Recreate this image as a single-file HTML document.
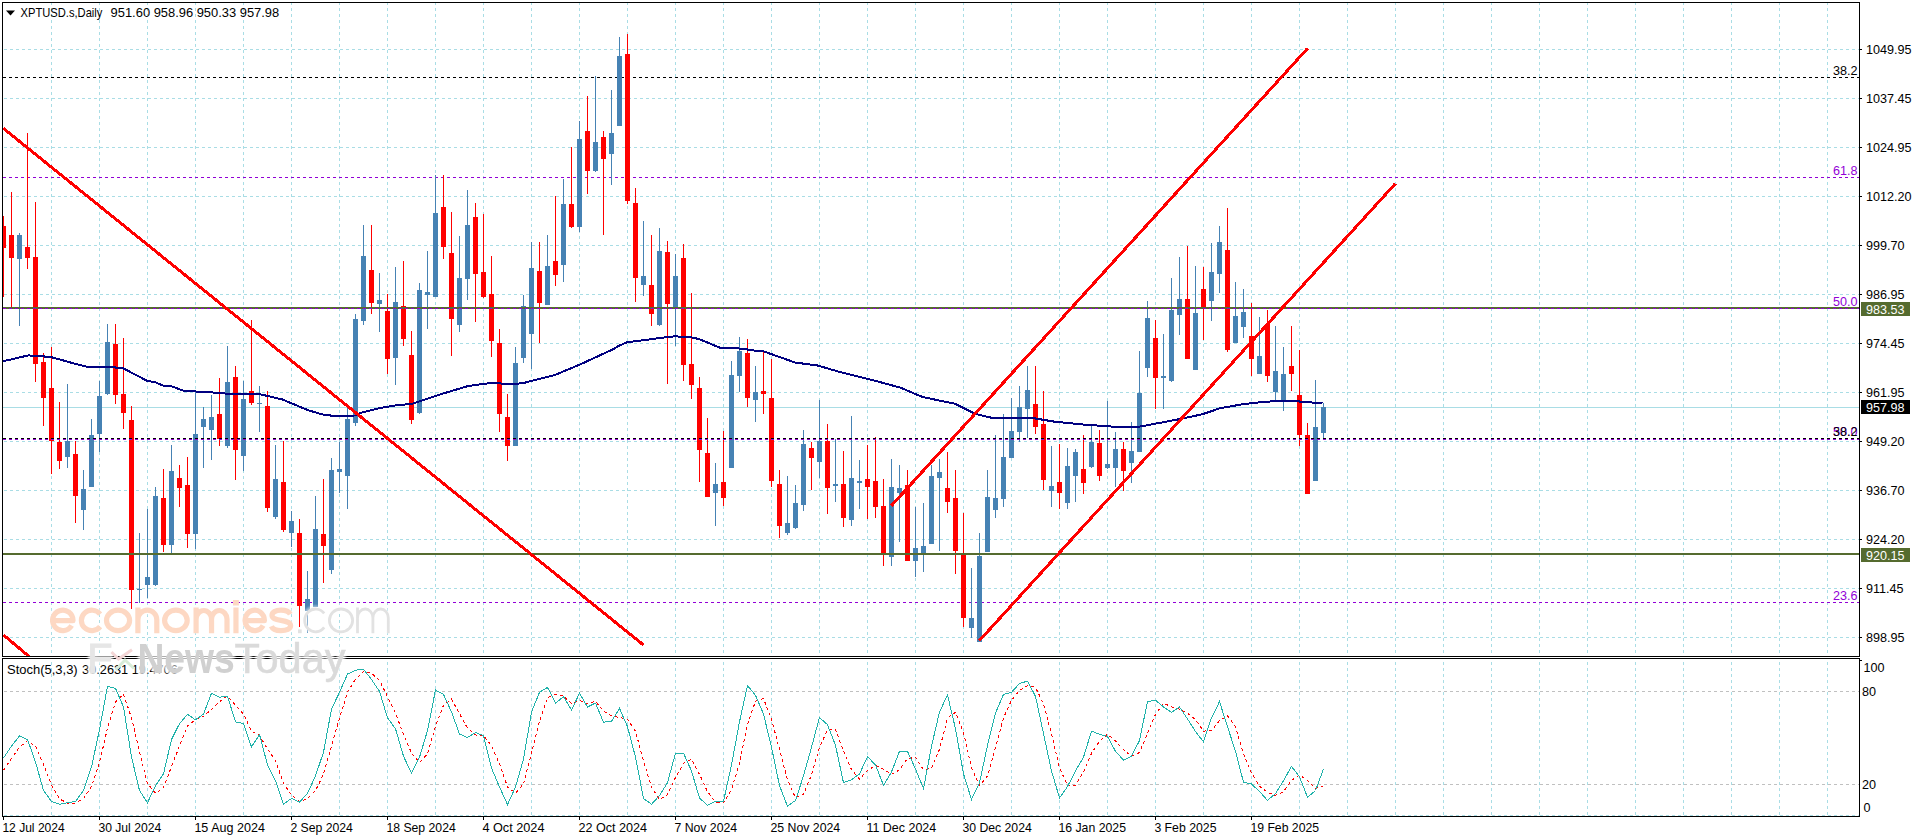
<!DOCTYPE html><html><head><meta charset="utf-8"><title>XPTUSD.s Daily</title>
<style>html,body{margin:0;padding:0;background:#fff;overflow:hidden}svg{display:block}text{font-family:"Liberation Sans",sans-serif;font-size:12.6px;fill:#000}.wm{font-family:"Liberation Sans",sans-serif}</style></head><body>
<svg width="1916" height="840" viewBox="0 0 1916 840">
<rect width="1916" height="840" fill="#fff"/>
<defs><clipPath id="cm"><rect x="3" y="3" width="1856" height="653"/></clipPath><clipPath id="ci"><rect x="3" y="659" width="1856" height="157"/></clipPath></defs>
<g shape-rendering="crispEdges" stroke="#a9dde5" stroke-width="1" stroke-dasharray="3 3" fill="none">
<g clip-path="url(#cm)">
<line x1="51.5" y1="2" x2="51.5" y2="656" stroke-dashoffset="0"/>
<line x1="99.5" y1="2" x2="99.5" y2="656" stroke-dashoffset="0"/>
<line x1="147.5" y1="2" x2="147.5" y2="656" stroke-dashoffset="0"/>
<line x1="195.5" y1="2" x2="195.5" y2="656" stroke-dashoffset="0"/>
<line x1="243.5" y1="2" x2="243.5" y2="656" stroke-dashoffset="0"/>
<line x1="291.5" y1="2" x2="291.5" y2="656" stroke-dashoffset="0"/>
<line x1="339.5" y1="2" x2="339.5" y2="656" stroke-dashoffset="0"/>
<line x1="387.5" y1="2" x2="387.5" y2="656" stroke-dashoffset="0"/>
<line x1="435.5" y1="2" x2="435.5" y2="656" stroke-dashoffset="0"/>
<line x1="483.5" y1="2" x2="483.5" y2="656" stroke-dashoffset="0"/>
<line x1="531.5" y1="2" x2="531.5" y2="656" stroke-dashoffset="0"/>
<line x1="579.5" y1="2" x2="579.5" y2="656" stroke-dashoffset="0"/>
<line x1="627.5" y1="2" x2="627.5" y2="656" stroke-dashoffset="0"/>
<line x1="675.5" y1="2" x2="675.5" y2="656" stroke-dashoffset="0"/>
<line x1="723.5" y1="2" x2="723.5" y2="656" stroke-dashoffset="0"/>
<line x1="771.5" y1="2" x2="771.5" y2="656" stroke-dashoffset="0"/>
<line x1="819.5" y1="2" x2="819.5" y2="656" stroke-dashoffset="0"/>
<line x1="867.5" y1="2" x2="867.5" y2="656" stroke-dashoffset="0"/>
<line x1="915.5" y1="2" x2="915.5" y2="656" stroke-dashoffset="0"/>
<line x1="963.5" y1="2" x2="963.5" y2="656" stroke-dashoffset="0"/>
<line x1="1011.5" y1="2" x2="1011.5" y2="656" stroke-dashoffset="0"/>
<line x1="1059.5" y1="2" x2="1059.5" y2="656" stroke-dashoffset="0"/>
<line x1="1107.5" y1="2" x2="1107.5" y2="656" stroke-dashoffset="0"/>
<line x1="1155.5" y1="2" x2="1155.5" y2="656" stroke-dashoffset="0"/>
<line x1="1203.5" y1="2" x2="1203.5" y2="656" stroke-dashoffset="0"/>
<line x1="1251.5" y1="2" x2="1251.5" y2="656" stroke-dashoffset="0"/>
<line x1="1299.5" y1="2" x2="1299.5" y2="656" stroke-dashoffset="0"/>
<line x1="1347.5" y1="2" x2="1347.5" y2="656" stroke-dashoffset="0"/>
<line x1="1395.5" y1="2" x2="1395.5" y2="656" stroke-dashoffset="0"/>
<line x1="1443.5" y1="2" x2="1443.5" y2="656" stroke-dashoffset="0"/>
<line x1="1491.5" y1="2" x2="1491.5" y2="656" stroke-dashoffset="0"/>
<line x1="1539.5" y1="2" x2="1539.5" y2="656" stroke-dashoffset="0"/>
<line x1="1587.5" y1="2" x2="1587.5" y2="656" stroke-dashoffset="0"/>
<line x1="1635.5" y1="2" x2="1635.5" y2="656" stroke-dashoffset="0"/>
<line x1="1683.5" y1="2" x2="1683.5" y2="656" stroke-dashoffset="0"/>
<line x1="1731.5" y1="2" x2="1731.5" y2="656" stroke-dashoffset="0"/>
<line x1="1779.5" y1="2" x2="1779.5" y2="656" stroke-dashoffset="0"/>
<line x1="1827.5" y1="2" x2="1827.5" y2="656" stroke-dashoffset="0"/>
<line x1="4" y1="49.5" x2="1859" y2="49.5"/>
<line x1="4" y1="98.5" x2="1859" y2="98.5"/>
<line x1="4" y1="147.5" x2="1859" y2="147.5"/>
<line x1="4" y1="196.5" x2="1859" y2="196.5"/>
<line x1="4" y1="245.5" x2="1859" y2="245.5"/>
<line x1="4" y1="294.5" x2="1859" y2="294.5"/>
<line x1="4" y1="343.5" x2="1859" y2="343.5"/>
<line x1="4" y1="392.5" x2="1859" y2="392.5"/>
<line x1="4" y1="441.5" x2="1859" y2="441.5"/>
<line x1="4" y1="490.5" x2="1859" y2="490.5"/>
<line x1="4" y1="539.5" x2="1859" y2="539.5"/>
<line x1="4" y1="588.5" x2="1859" y2="588.5"/>
<line x1="4" y1="637.5" x2="1859" y2="637.5"/>
</g><g clip-path="url(#ci)">
<line x1="51.5" y1="656" x2="51.5" y2="816"/>
<line x1="99.5" y1="656" x2="99.5" y2="816"/>
<line x1="147.5" y1="656" x2="147.5" y2="816"/>
<line x1="195.5" y1="656" x2="195.5" y2="816"/>
<line x1="243.5" y1="656" x2="243.5" y2="816"/>
<line x1="291.5" y1="656" x2="291.5" y2="816"/>
<line x1="339.5" y1="656" x2="339.5" y2="816"/>
<line x1="387.5" y1="656" x2="387.5" y2="816"/>
<line x1="435.5" y1="656" x2="435.5" y2="816"/>
<line x1="483.5" y1="656" x2="483.5" y2="816"/>
<line x1="531.5" y1="656" x2="531.5" y2="816"/>
<line x1="579.5" y1="656" x2="579.5" y2="816"/>
<line x1="627.5" y1="656" x2="627.5" y2="816"/>
<line x1="675.5" y1="656" x2="675.5" y2="816"/>
<line x1="723.5" y1="656" x2="723.5" y2="816"/>
<line x1="771.5" y1="656" x2="771.5" y2="816"/>
<line x1="819.5" y1="656" x2="819.5" y2="816"/>
<line x1="867.5" y1="656" x2="867.5" y2="816"/>
<line x1="915.5" y1="656" x2="915.5" y2="816"/>
<line x1="963.5" y1="656" x2="963.5" y2="816"/>
<line x1="1011.5" y1="656" x2="1011.5" y2="816"/>
<line x1="1059.5" y1="656" x2="1059.5" y2="816"/>
<line x1="1107.5" y1="656" x2="1107.5" y2="816"/>
<line x1="1155.5" y1="656" x2="1155.5" y2="816"/>
<line x1="1203.5" y1="656" x2="1203.5" y2="816"/>
<line x1="1251.5" y1="656" x2="1251.5" y2="816"/>
<line x1="1299.5" y1="656" x2="1299.5" y2="816"/>
<line x1="1347.5" y1="656" x2="1347.5" y2="816"/>
<line x1="1395.5" y1="656" x2="1395.5" y2="816"/>
<line x1="1443.5" y1="656" x2="1443.5" y2="816"/>
<line x1="1491.5" y1="656" x2="1491.5" y2="816"/>
<line x1="1539.5" y1="656" x2="1539.5" y2="816"/>
<line x1="1587.5" y1="656" x2="1587.5" y2="816"/>
<line x1="1635.5" y1="656" x2="1635.5" y2="816"/>
<line x1="1683.5" y1="656" x2="1683.5" y2="816"/>
<line x1="1731.5" y1="656" x2="1731.5" y2="816"/>
<line x1="1779.5" y1="656" x2="1779.5" y2="816"/>
<line x1="1827.5" y1="656" x2="1827.5" y2="816"/>
<line x1="4" y1="815.5" x2="1859" y2="815.5"/>
</g></g>
<g shape-rendering="crispEdges" stroke="#c0c0c0" stroke-dasharray="3 3">
<line x1="4" y1="691.5" x2="1859" y2="691.5"/>
<line x1="4" y1="784.5" x2="1859" y2="784.5"/>
</g>
<g clip-path="url(#cm)" shape-rendering="crispEdges">
<rect x="3" y="407" width="1856" height="1" fill="#a9dde5"/>
<line x1="3" y1="77.5" x2="1859" y2="77.5" stroke="#000" stroke-dasharray="3 3"/>
<line x1="3" y1="177.5" x2="1859" y2="177.5" stroke="#9200d6" stroke-dasharray="3 3"/>
<line x1="3" y1="602.5" x2="1859" y2="602.5" stroke="#9200d6" stroke-dasharray="3 3"/>
<rect x="3" y="216" width="1" height="81" fill="#ff0000"/>
<rect x="1" y="226" width="5" height="22" fill="#ff0000"/>
<rect x="11" y="192" width="1" height="115" fill="#ff0000"/>
<rect x="9" y="235" width="5" height="23" fill="#ff0000"/>
<rect x="19" y="233" width="1" height="93" fill="#4682b4"/>
<rect x="17" y="235" width="5" height="24" fill="#4682b4"/>
<rect x="27" y="133" width="1" height="136" fill="#ff0000"/>
<rect x="25" y="247" width="5" height="11" fill="#ff0000"/>
<rect x="35" y="202" width="1" height="180" fill="#ff0000"/>
<rect x="33" y="257" width="5" height="107" fill="#ff0000"/>
<rect x="43" y="353" width="1" height="73" fill="#ff0000"/>
<rect x="41" y="362" width="5" height="36" fill="#ff0000"/>
<rect x="51" y="347" width="1" height="127" fill="#ff0000"/>
<rect x="49" y="388" width="5" height="53" fill="#ff0000"/>
<rect x="59" y="402" width="1" height="67" fill="#ff0000"/>
<rect x="57" y="442" width="5" height="19" fill="#ff0000"/>
<rect x="67" y="384" width="1" height="84" fill="#4682b4"/>
<rect x="65" y="441" width="5" height="16" fill="#4682b4"/>
<rect x="75" y="441" width="1" height="82" fill="#ff0000"/>
<rect x="73" y="454" width="5" height="42" fill="#ff0000"/>
<rect x="83" y="470" width="1" height="60" fill="#4682b4"/>
<rect x="81" y="489" width="5" height="21" fill="#4682b4"/>
<rect x="91" y="419" width="1" height="68" fill="#4682b4"/>
<rect x="89" y="435" width="5" height="52" fill="#4682b4"/>
<rect x="99" y="381" width="1" height="71" fill="#4682b4"/>
<rect x="97" y="396" width="5" height="38" fill="#4682b4"/>
<rect x="107" y="324" width="1" height="71" fill="#4682b4"/>
<rect x="105" y="342" width="5" height="52" fill="#4682b4"/>
<rect x="115" y="324" width="1" height="80" fill="#ff0000"/>
<rect x="113" y="344" width="5" height="51" fill="#ff0000"/>
<rect x="123" y="338" width="1" height="91" fill="#ff0000"/>
<rect x="121" y="394" width="5" height="19" fill="#ff0000"/>
<rect x="131" y="406" width="1" height="203" fill="#ff0000"/>
<rect x="129" y="420" width="5" height="170" fill="#ff0000"/>
<rect x="139" y="533" width="1" height="70" fill="#4682b4"/>
<rect x="137" y="589" width="5" height="1" fill="#4682b4"/>
<rect x="147" y="509" width="1" height="89" fill="#4682b4"/>
<rect x="145" y="577" width="5" height="8" fill="#4682b4"/>
<rect x="155" y="487" width="1" height="99" fill="#4682b4"/>
<rect x="153" y="496" width="5" height="89" fill="#4682b4"/>
<rect x="163" y="469" width="1" height="83" fill="#ff0000"/>
<rect x="161" y="498" width="5" height="47" fill="#ff0000"/>
<rect x="171" y="445" width="1" height="108" fill="#4682b4"/>
<rect x="169" y="471" width="5" height="74" fill="#4682b4"/>
<rect x="179" y="465" width="1" height="42" fill="#ff0000"/>
<rect x="177" y="478" width="5" height="10" fill="#ff0000"/>
<rect x="187" y="457" width="1" height="91" fill="#ff0000"/>
<rect x="185" y="485" width="5" height="49" fill="#ff0000"/>
<rect x="195" y="391" width="1" height="158" fill="#4682b4"/>
<rect x="193" y="434" width="5" height="100" fill="#4682b4"/>
<rect x="203" y="407" width="1" height="61" fill="#4682b4"/>
<rect x="201" y="419" width="5" height="8" fill="#4682b4"/>
<rect x="211" y="395" width="1" height="65" fill="#4682b4"/>
<rect x="209" y="417" width="5" height="13" fill="#4682b4"/>
<rect x="219" y="378" width="1" height="68" fill="#ff0000"/>
<rect x="217" y="414" width="5" height="25" fill="#ff0000"/>
<rect x="227" y="346" width="1" height="102" fill="#4682b4"/>
<rect x="225" y="382" width="5" height="64" fill="#4682b4"/>
<rect x="235" y="366" width="1" height="114" fill="#ff0000"/>
<rect x="233" y="377" width="5" height="73" fill="#ff0000"/>
<rect x="243" y="381" width="1" height="90" fill="#4682b4"/>
<rect x="241" y="399" width="5" height="57" fill="#4682b4"/>
<rect x="251" y="320" width="1" height="85" fill="#ff0000"/>
<rect x="249" y="391" width="5" height="12" fill="#ff0000"/>
<rect x="259" y="386" width="1" height="46" fill="#4682b4"/>
<rect x="257" y="403" width="5" height="1" fill="#4682b4"/>
<rect x="267" y="391" width="1" height="121" fill="#ff0000"/>
<rect x="265" y="406" width="5" height="102" fill="#ff0000"/>
<rect x="275" y="445" width="1" height="74" fill="#4682b4"/>
<rect x="273" y="479" width="5" height="38" fill="#4682b4"/>
<rect x="283" y="441" width="1" height="91" fill="#ff0000"/>
<rect x="281" y="482" width="5" height="48" fill="#ff0000"/>
<rect x="291" y="511" width="1" height="36" fill="#4682b4"/>
<rect x="289" y="521" width="5" height="12" fill="#4682b4"/>
<rect x="299" y="519" width="1" height="108" fill="#ff0000"/>
<rect x="297" y="533" width="5" height="73" fill="#ff0000"/>
<rect x="307" y="571" width="1" height="62" fill="#4682b4"/>
<rect x="305" y="599" width="5" height="12" fill="#4682b4"/>
<rect x="315" y="496" width="1" height="111" fill="#4682b4"/>
<rect x="313" y="529" width="5" height="78" fill="#4682b4"/>
<rect x="323" y="479" width="1" height="104" fill="#ff0000"/>
<rect x="321" y="534" width="5" height="12" fill="#ff0000"/>
<rect x="331" y="458" width="1" height="116" fill="#4682b4"/>
<rect x="329" y="470" width="5" height="100" fill="#4682b4"/>
<rect x="339" y="442" width="1" height="51" fill="#4682b4"/>
<rect x="337" y="469" width="5" height="3" fill="#4682b4"/>
<rect x="347" y="406" width="1" height="103" fill="#4682b4"/>
<rect x="345" y="419" width="5" height="57" fill="#4682b4"/>
<rect x="355" y="314" width="1" height="112" fill="#4682b4"/>
<rect x="353" y="319" width="5" height="104" fill="#4682b4"/>
<rect x="363" y="225" width="1" height="100" fill="#4682b4"/>
<rect x="361" y="256" width="5" height="65" fill="#4682b4"/>
<rect x="371" y="225" width="1" height="89" fill="#ff0000"/>
<rect x="369" y="270" width="5" height="33" fill="#ff0000"/>
<rect x="379" y="273" width="1" height="59" fill="#4682b4"/>
<rect x="377" y="300" width="5" height="4" fill="#4682b4"/>
<rect x="387" y="294" width="1" height="80" fill="#ff0000"/>
<rect x="385" y="311" width="5" height="48" fill="#ff0000"/>
<rect x="395" y="267" width="1" height="118" fill="#4682b4"/>
<rect x="393" y="302" width="5" height="56" fill="#4682b4"/>
<rect x="403" y="261" width="1" height="85" fill="#ff0000"/>
<rect x="401" y="306" width="5" height="33" fill="#ff0000"/>
<rect x="411" y="331" width="1" height="93" fill="#ff0000"/>
<rect x="409" y="355" width="5" height="65" fill="#ff0000"/>
<rect x="419" y="283" width="1" height="131" fill="#4682b4"/>
<rect x="417" y="290" width="5" height="123" fill="#4682b4"/>
<rect x="427" y="251" width="1" height="78" fill="#4682b4"/>
<rect x="425" y="292" width="5" height="3" fill="#4682b4"/>
<rect x="435" y="175" width="1" height="122" fill="#4682b4"/>
<rect x="433" y="213" width="5" height="84" fill="#4682b4"/>
<rect x="443" y="175" width="1" height="84" fill="#ff0000"/>
<rect x="441" y="207" width="5" height="40" fill="#ff0000"/>
<rect x="451" y="212" width="1" height="144" fill="#ff0000"/>
<rect x="449" y="253" width="5" height="66" fill="#ff0000"/>
<rect x="459" y="236" width="1" height="96" fill="#4682b4"/>
<rect x="457" y="278" width="5" height="47" fill="#4682b4"/>
<rect x="467" y="190" width="1" height="110" fill="#4682b4"/>
<rect x="465" y="225" width="5" height="54" fill="#4682b4"/>
<rect x="475" y="203" width="1" height="119" fill="#ff0000"/>
<rect x="473" y="217" width="5" height="57" fill="#ff0000"/>
<rect x="483" y="214" width="1" height="84" fill="#ff0000"/>
<rect x="481" y="272" width="5" height="25" fill="#ff0000"/>
<rect x="491" y="256" width="1" height="101" fill="#ff0000"/>
<rect x="489" y="294" width="5" height="47" fill="#ff0000"/>
<rect x="499" y="329" width="1" height="103" fill="#ff0000"/>
<rect x="497" y="343" width="5" height="71" fill="#ff0000"/>
<rect x="507" y="394" width="1" height="67" fill="#ff0000"/>
<rect x="505" y="417" width="5" height="29" fill="#ff0000"/>
<rect x="515" y="347" width="1" height="99" fill="#4682b4"/>
<rect x="513" y="363" width="5" height="83" fill="#4682b4"/>
<rect x="523" y="295" width="1" height="68" fill="#4682b4"/>
<rect x="521" y="306" width="5" height="52" fill="#4682b4"/>
<rect x="531" y="242" width="1" height="127" fill="#4682b4"/>
<rect x="529" y="268" width="5" height="66" fill="#4682b4"/>
<rect x="539" y="242" width="1" height="101" fill="#ff0000"/>
<rect x="537" y="271" width="5" height="32" fill="#ff0000"/>
<rect x="547" y="235" width="1" height="70" fill="#4682b4"/>
<rect x="545" y="266" width="5" height="39" fill="#4682b4"/>
<rect x="555" y="196" width="1" height="90" fill="#ff0000"/>
<rect x="553" y="261" width="5" height="14" fill="#ff0000"/>
<rect x="563" y="179" width="1" height="103" fill="#4682b4"/>
<rect x="561" y="204" width="5" height="61" fill="#4682b4"/>
<rect x="571" y="147" width="1" height="81" fill="#ff0000"/>
<rect x="569" y="204" width="5" height="23" fill="#ff0000"/>
<rect x="579" y="121" width="1" height="111" fill="#4682b4"/>
<rect x="577" y="139" width="5" height="88" fill="#4682b4"/>
<rect x="587" y="96" width="1" height="98" fill="#ff0000"/>
<rect x="585" y="131" width="5" height="40" fill="#ff0000"/>
<rect x="595" y="76" width="1" height="96" fill="#4682b4"/>
<rect x="593" y="142" width="5" height="29" fill="#4682b4"/>
<rect x="603" y="131" width="1" height="104" fill="#ff0000"/>
<rect x="601" y="137" width="5" height="22" fill="#ff0000"/>
<rect x="611" y="90" width="1" height="95" fill="#4682b4"/>
<rect x="609" y="133" width="5" height="21" fill="#4682b4"/>
<rect x="619" y="37" width="1" height="89" fill="#4682b4"/>
<rect x="617" y="56" width="5" height="70" fill="#4682b4"/>
<rect x="627" y="34" width="1" height="170" fill="#ff0000"/>
<rect x="625" y="54" width="5" height="147" fill="#ff0000"/>
<rect x="635" y="188" width="1" height="114" fill="#ff0000"/>
<rect x="633" y="203" width="5" height="75" fill="#ff0000"/>
<rect x="643" y="221" width="1" height="75" fill="#4682b4"/>
<rect x="641" y="276" width="5" height="9" fill="#4682b4"/>
<rect x="651" y="235" width="1" height="91" fill="#ff0000"/>
<rect x="649" y="285" width="5" height="29" fill="#ff0000"/>
<rect x="659" y="228" width="1" height="98" fill="#4682b4"/>
<rect x="657" y="251" width="5" height="74" fill="#4682b4"/>
<rect x="667" y="241" width="1" height="143" fill="#ff0000"/>
<rect x="665" y="252" width="5" height="52" fill="#ff0000"/>
<rect x="675" y="254" width="1" height="92" fill="#4682b4"/>
<rect x="673" y="276" width="5" height="33" fill="#4682b4"/>
<rect x="683" y="244" width="1" height="137" fill="#ff0000"/>
<rect x="681" y="258" width="5" height="107" fill="#ff0000"/>
<rect x="691" y="293" width="1" height="106" fill="#ff0000"/>
<rect x="689" y="364" width="5" height="21" fill="#ff0000"/>
<rect x="699" y="377" width="1" height="105" fill="#ff0000"/>
<rect x="697" y="388" width="5" height="62" fill="#ff0000"/>
<rect x="707" y="418" width="1" height="79" fill="#ff0000"/>
<rect x="705" y="453" width="5" height="44" fill="#ff0000"/>
<rect x="715" y="463" width="1" height="63" fill="#4682b4"/>
<rect x="713" y="484" width="5" height="9" fill="#4682b4"/>
<rect x="723" y="431" width="1" height="75" fill="#ff0000"/>
<rect x="721" y="482" width="5" height="16" fill="#ff0000"/>
<rect x="731" y="361" width="1" height="107" fill="#4682b4"/>
<rect x="729" y="375" width="5" height="93" fill="#4682b4"/>
<rect x="739" y="337" width="1" height="55" fill="#4682b4"/>
<rect x="737" y="351" width="5" height="25" fill="#4682b4"/>
<rect x="747" y="339" width="1" height="68" fill="#ff0000"/>
<rect x="745" y="353" width="5" height="45" fill="#ff0000"/>
<rect x="755" y="366" width="1" height="56" fill="#4682b4"/>
<rect x="753" y="392" width="5" height="8" fill="#4682b4"/>
<rect x="763" y="351" width="1" height="63" fill="#ff0000"/>
<rect x="761" y="391" width="5" height="3" fill="#ff0000"/>
<rect x="771" y="359" width="1" height="128" fill="#ff0000"/>
<rect x="769" y="398" width="5" height="83" fill="#ff0000"/>
<rect x="779" y="470" width="1" height="68" fill="#ff0000"/>
<rect x="777" y="484" width="5" height="42" fill="#ff0000"/>
<rect x="787" y="476" width="1" height="59" fill="#4682b4"/>
<rect x="785" y="523" width="5" height="10" fill="#4682b4"/>
<rect x="795" y="485" width="1" height="44" fill="#4682b4"/>
<rect x="793" y="503" width="5" height="25" fill="#4682b4"/>
<rect x="803" y="430" width="1" height="81" fill="#4682b4"/>
<rect x="801" y="444" width="5" height="61" fill="#4682b4"/>
<rect x="811" y="442" width="1" height="48" fill="#ff0000"/>
<rect x="809" y="448" width="5" height="10" fill="#ff0000"/>
<rect x="819" y="400" width="1" height="78" fill="#4682b4"/>
<rect x="817" y="441" width="5" height="21" fill="#4682b4"/>
<rect x="827" y="424" width="1" height="90" fill="#ff0000"/>
<rect x="825" y="441" width="5" height="47" fill="#ff0000"/>
<rect x="835" y="439" width="1" height="63" fill="#4682b4"/>
<rect x="833" y="484" width="5" height="2" fill="#4682b4"/>
<rect x="843" y="451" width="1" height="76" fill="#ff0000"/>
<rect x="841" y="484" width="5" height="34" fill="#ff0000"/>
<rect x="851" y="416" width="1" height="110" fill="#4682b4"/>
<rect x="849" y="478" width="5" height="42" fill="#4682b4"/>
<rect x="859" y="460" width="1" height="49" fill="#4682b4"/>
<rect x="857" y="481" width="5" height="2" fill="#4682b4"/>
<rect x="867" y="445" width="1" height="74" fill="#ff0000"/>
<rect x="865" y="479" width="5" height="8" fill="#ff0000"/>
<rect x="875" y="437" width="1" height="81" fill="#ff0000"/>
<rect x="873" y="481" width="5" height="26" fill="#ff0000"/>
<rect x="883" y="479" width="1" height="87" fill="#ff0000"/>
<rect x="881" y="506" width="5" height="48" fill="#ff0000"/>
<rect x="891" y="459" width="1" height="107" fill="#4682b4"/>
<rect x="889" y="487" width="5" height="70" fill="#4682b4"/>
<rect x="899" y="465" width="1" height="77" fill="#4682b4"/>
<rect x="897" y="488" width="5" height="5" fill="#4682b4"/>
<rect x="907" y="470" width="1" height="91" fill="#ff0000"/>
<rect x="905" y="485" width="5" height="76" fill="#ff0000"/>
<rect x="915" y="507" width="1" height="70" fill="#4682b4"/>
<rect x="913" y="548" width="5" height="13" fill="#4682b4"/>
<rect x="923" y="503" width="1" height="69" fill="#4682b4"/>
<rect x="921" y="546" width="5" height="8" fill="#4682b4"/>
<rect x="931" y="465" width="1" height="79" fill="#4682b4"/>
<rect x="929" y="476" width="5" height="68" fill="#4682b4"/>
<rect x="939" y="459" width="1" height="92" fill="#4682b4"/>
<rect x="937" y="472" width="5" height="6" fill="#4682b4"/>
<rect x="947" y="452" width="1" height="61" fill="#ff0000"/>
<rect x="945" y="488" width="5" height="14" fill="#ff0000"/>
<rect x="955" y="470" width="1" height="104" fill="#ff0000"/>
<rect x="953" y="498" width="5" height="53" fill="#ff0000"/>
<rect x="963" y="513" width="1" height="114" fill="#ff0000"/>
<rect x="961" y="554" width="5" height="64" fill="#ff0000"/>
<rect x="971" y="568" width="1" height="70" fill="#4682b4"/>
<rect x="969" y="618" width="5" height="10" fill="#4682b4"/>
<rect x="979" y="533" width="1" height="109" fill="#4682b4"/>
<rect x="977" y="556" width="5" height="86" fill="#4682b4"/>
<rect x="987" y="470" width="1" height="82" fill="#4682b4"/>
<rect x="985" y="497" width="5" height="55" fill="#4682b4"/>
<rect x="995" y="435" width="1" height="83" fill="#4682b4"/>
<rect x="993" y="498" width="5" height="12" fill="#4682b4"/>
<rect x="1003" y="414" width="1" height="93" fill="#4682b4"/>
<rect x="1001" y="457" width="5" height="42" fill="#4682b4"/>
<rect x="1011" y="398" width="1" height="60" fill="#4682b4"/>
<rect x="1009" y="431" width="5" height="27" fill="#4682b4"/>
<rect x="1019" y="386" width="1" height="56" fill="#4682b4"/>
<rect x="1017" y="407" width="5" height="25" fill="#4682b4"/>
<rect x="1027" y="366" width="1" height="72" fill="#4682b4"/>
<rect x="1025" y="390" width="5" height="19" fill="#4682b4"/>
<rect x="1035" y="366" width="1" height="68" fill="#ff0000"/>
<rect x="1033" y="404" width="5" height="23" fill="#ff0000"/>
<rect x="1043" y="391" width="1" height="99" fill="#ff0000"/>
<rect x="1041" y="424" width="5" height="56" fill="#ff0000"/>
<rect x="1051" y="446" width="1" height="61" fill="#4682b4"/>
<rect x="1049" y="486" width="5" height="5" fill="#4682b4"/>
<rect x="1059" y="444" width="1" height="65" fill="#ff0000"/>
<rect x="1057" y="482" width="5" height="11" fill="#ff0000"/>
<rect x="1067" y="448" width="1" height="61" fill="#4682b4"/>
<rect x="1065" y="466" width="5" height="37" fill="#4682b4"/>
<rect x="1075" y="449" width="1" height="53" fill="#4682b4"/>
<rect x="1073" y="452" width="5" height="24" fill="#4682b4"/>
<rect x="1083" y="435" width="1" height="59" fill="#ff0000"/>
<rect x="1081" y="469" width="5" height="14" fill="#ff0000"/>
<rect x="1091" y="424" width="1" height="44" fill="#4682b4"/>
<rect x="1089" y="442" width="5" height="25" fill="#4682b4"/>
<rect x="1099" y="430" width="1" height="51" fill="#ff0000"/>
<rect x="1097" y="443" width="5" height="33" fill="#ff0000"/>
<rect x="1107" y="401" width="1" height="68" fill="#4682b4"/>
<rect x="1105" y="464" width="5" height="4" fill="#4682b4"/>
<rect x="1115" y="432" width="1" height="55" fill="#4682b4"/>
<rect x="1113" y="449" width="5" height="19" fill="#4682b4"/>
<rect x="1123" y="442" width="1" height="49" fill="#ff0000"/>
<rect x="1121" y="449" width="5" height="22" fill="#ff0000"/>
<rect x="1131" y="422" width="1" height="61" fill="#4682b4"/>
<rect x="1129" y="451" width="5" height="12" fill="#4682b4"/>
<rect x="1139" y="351" width="1" height="101" fill="#4682b4"/>
<rect x="1137" y="393" width="5" height="59" fill="#4682b4"/>
<rect x="1147" y="301" width="1" height="76" fill="#4682b4"/>
<rect x="1145" y="318" width="5" height="50" fill="#4682b4"/>
<rect x="1155" y="320" width="1" height="89" fill="#ff0000"/>
<rect x="1153" y="338" width="5" height="40" fill="#ff0000"/>
<rect x="1163" y="334" width="1" height="75" fill="#4682b4"/>
<rect x="1161" y="376" width="5" height="2" fill="#4682b4"/>
<rect x="1171" y="278" width="1" height="104" fill="#4682b4"/>
<rect x="1169" y="310" width="5" height="71" fill="#4682b4"/>
<rect x="1179" y="257" width="1" height="78" fill="#4682b4"/>
<rect x="1177" y="299" width="5" height="16" fill="#4682b4"/>
<rect x="1187" y="246" width="1" height="113" fill="#ff0000"/>
<rect x="1185" y="299" width="5" height="60" fill="#ff0000"/>
<rect x="1195" y="266" width="1" height="104" fill="#4682b4"/>
<rect x="1193" y="313" width="5" height="57" fill="#4682b4"/>
<rect x="1203" y="267" width="1" height="73" fill="#ff0000"/>
<rect x="1201" y="289" width="5" height="18" fill="#ff0000"/>
<rect x="1211" y="243" width="1" height="78" fill="#4682b4"/>
<rect x="1209" y="272" width="5" height="29" fill="#4682b4"/>
<rect x="1219" y="226" width="1" height="67" fill="#4682b4"/>
<rect x="1217" y="242" width="5" height="32" fill="#4682b4"/>
<rect x="1227" y="208" width="1" height="144" fill="#ff0000"/>
<rect x="1225" y="250" width="5" height="100" fill="#ff0000"/>
<rect x="1235" y="282" width="1" height="61" fill="#4682b4"/>
<rect x="1233" y="316" width="5" height="27" fill="#4682b4"/>
<rect x="1243" y="289" width="1" height="49" fill="#4682b4"/>
<rect x="1241" y="312" width="5" height="15" fill="#4682b4"/>
<rect x="1251" y="303" width="1" height="73" fill="#ff0000"/>
<rect x="1249" y="336" width="5" height="23" fill="#ff0000"/>
<rect x="1259" y="317" width="1" height="57" fill="#4682b4"/>
<rect x="1257" y="356" width="5" height="18" fill="#4682b4"/>
<rect x="1267" y="310" width="1" height="72" fill="#ff0000"/>
<rect x="1265" y="324" width="5" height="52" fill="#ff0000"/>
<rect x="1275" y="326" width="1" height="74" fill="#4682b4"/>
<rect x="1273" y="371" width="5" height="21" fill="#4682b4"/>
<rect x="1283" y="347" width="1" height="64" fill="#4682b4"/>
<rect x="1281" y="374" width="5" height="27" fill="#4682b4"/>
<rect x="1291" y="326" width="1" height="65" fill="#ff0000"/>
<rect x="1289" y="366" width="5" height="8" fill="#ff0000"/>
<rect x="1299" y="350" width="1" height="96" fill="#ff0000"/>
<rect x="1297" y="395" width="5" height="40" fill="#ff0000"/>
<rect x="1307" y="423" width="1" height="71" fill="#ff0000"/>
<rect x="1305" y="435" width="5" height="59" fill="#ff0000"/>
<rect x="1315" y="380" width="1" height="101" fill="#4682b4"/>
<rect x="1313" y="427" width="5" height="54" fill="#4682b4"/>
<rect x="1323" y="403" width="1" height="36" fill="#4682b4"/>
<rect x="1321" y="407" width="5" height="26" fill="#4682b4"/>
<rect x="3" y="307" width="1856" height="2" fill="#556b2f"/>
<line x1="3" y1="308.5" x2="1859" y2="308.5" stroke="#9200d6" stroke-dasharray="3 3"/>
<rect x="3" y="553" width="1856" height="2" fill="#556b2f"/>
<line x1="3" y1="439.5" x2="1859" y2="439.5" stroke="#9200d6" stroke-dasharray="3 3"/>
<line x1="3" y1="438.5" x2="1859" y2="438.5" stroke="#000" stroke-dasharray="3 3"/>
<polyline fill="none" stroke="#000080" stroke-width="2" points="3.1,361.2 11.5,359.4 19.9,357.3 28.3,355.4 35.6,355.9 43.5,356.4 51.3,357.2 59.7,359.4 67.6,361.7 75.4,363.8 83.8,365.9 88,367.2 115.2,367.2 116.3,368.3 123.6,368.5 147.7,381.1 155,382.1 163.4,385.8 170.8,386.1 184.4,391 195.9,391.5 212.5,392.5 227.5,393.75 259,394 282.5,399.5 307.5,410 322.5,414.5 332.5,415.75 355,415.5 360,413 380,408 395,405.5 412.5,403.75 442.5,393.75 467.5,386.25 479,384.5 495,382.5 507.5,384.5 522.5,383.25 555,375 580,364.5 612.4,349.6 618.7,345.9 627,342.2 643.8,340.2 659.5,338.1 675.2,336.2 683.6,337 691,337.3 699.3,339.1 720.3,347.9 738,348.1 740,349.1 747.5,349.5 756,350.8 762.5,351 795,362.5 817.5,365.5 840,372 875,380.75 900,387.5 922.5,397 949,402.5 955,403.75 975,413.75 992.5,418 1032.5,418 1055,421.75 1080,424.25 1100,425.75 1125,427.5 1137.5,427 1152.5,424.25 1177.5,419.5 1202.5,414.25 1220,408.25 1242.5,404.25 1262.5,402 1282.5,400.75 1297.5,400.75 1301,402 1322.5,403"/>
<line x1="3.5" y1="128.5" x2="643.5" y2="645" stroke="#ff0000" stroke-width="3"/>
<line x1="3.5" y1="635" x2="53.5" y2="677" stroke="#ff0000" stroke-width="3"/>
<line x1="891.2" y1="505.9" x2="1307.5" y2="48.5" stroke="#ff0000" stroke-width="3"/>
<line x1="979.5" y1="640.5" x2="1395.5" y2="183.5" stroke="#ff0000" stroke-width="3"/>
</g>
<g clip-path="url(#ci)" shape-rendering="crispEdges" fill="none">
<polyline stroke="#ff0000" stroke-dasharray="3 3" points="3.5,770.3 11.5,758.3 19.5,747.0 27.5,740.8 35.5,746.1 43.5,764.3 51.5,784.9 59.5,799.0 67.5,803.1 75.5,803.1 83.5,798.5 91.5,786.6 99.5,762.7 107.5,728.0 115.5,701.8 123.5,694.2 131.5,717.8 139.5,751.8 147.5,783.7 155.5,793.2 163.5,787.7 171.5,766.6 179.5,746.0 187.5,726.1 195.5,719.6 203.5,716.3 211.5,709.3 219.5,701.8 227.5,695.9 235.5,705.4 243.5,714.2 251.5,731.1 259.5,735.4 267.5,749.1 275.5,760.4 283.5,783.6 291.5,794.8 299.5,801.9 307.5,798.3 315.5,790.7 323.5,774.2 331.5,746.0 339.5,718.2 347.5,692.1 355.5,679.2 363.5,671.4 371.5,673.3 379.5,680.3 387.5,696.6 395.5,712.9 403.5,734.6 411.5,753.0 419.5,762.5 427.5,754.0 435.5,726.2 443.5,705.3 451.5,699.1 459.5,713.7 467.5,728.1 475.5,735.0 483.5,735.5 491.5,745.7 499.5,763.8 507.5,786.9 515.5,793.2 523.5,783.9 531.5,753.0 539.5,721.4 547.5,697.5 555.5,694.6 563.5,696.0 571.5,703.6 579.5,700.3 587.5,703.7 595.5,701.4 603.5,711.1 611.5,715.9 619.5,717.6 627.5,719.1 635.5,731.1 643.5,761.1 651.5,786.9 659.5,799.7 667.5,794.5 675.5,777.4 683.5,763.3 691.5,759.4 699.5,774.3 707.5,791.7 715.5,801.9 723.5,803.0 731.5,789.6 739.5,763.0 747.5,724.4 755.5,701.2 763.5,698.6 771.5,719.2 779.5,749.3 787.5,780.0 795.5,797.7 803.5,794.5 811.5,774.8 819.5,747.2 827.5,730.1 835.5,729.5 843.5,751.2 851.5,769.6 859.5,779.1 867.5,770.4 875.5,765.5 883.5,769.3 891.5,774.4 899.5,769.8 907.5,758.5 915.5,757.5 923.5,769.9 931.5,768.3 939.5,749.3 947.5,718.1 955.5,712.2 963.5,732.8 971.5,767.6 979.5,785.6 987.5,776.1 995.5,747.3 1003.5,717.9 1011.5,700.2 1019.5,690.3 1027.5,685.9 1035.5,687.3 1043.5,704.0 1051.5,733.9 1059.5,767.8 1067.5,785.5 1075.5,785.5 1083.5,771.9 1091.5,753.4 1099.5,741.2 1107.5,734.3 1115.5,741.0 1123.5,749.6 1131.5,756.2 1139.5,752.6 1147.5,733.1 1155.5,714.4 1163.5,703.2 1171.5,706.8 1179.5,709.1 1187.5,713.1 1195.5,719.5 1203.5,731.1 1211.5,730.7 1219.5,720.7 1227.5,715.7 1235.5,726.8 1243.5,753.7 1251.5,772.8 1259.5,786.2 1267.5,792.3 1275.5,795.4 1283.5,791.8 1291.5,780.5 1299.5,774.9 1307.5,780.5 1315.5,788.5 1323.5,785.9"/>
<polyline stroke="#20b2aa" points="3.5,758.0 11.5,746.0 19.5,736.0 27.5,739.5 35.5,762.0 43.5,790.5 51.5,801.4 59.5,804.3 67.5,802.7 75.5,801.4 83.5,790.5 91.5,767.0 99.5,729.6 107.5,686.4 115.5,688.4 123.5,707.0 131.5,757.0 139.5,790.5 147.5,802.7 155.5,785.6 163.5,773.8 171.5,739.5 179.5,723.7 187.5,714.3 195.5,719.8 203.5,714.0 211.5,693.3 219.5,697.2 227.5,696.2 235.5,721.8 243.5,723.7 251.5,747.0 259.5,734.5 267.5,765.0 275.5,780.7 283.5,804.3 291.5,798.4 299.5,802.0 307.5,793.5 315.5,775.8 323.5,752.3 331.5,709.0 339.5,692.3 347.5,674.0 355.5,670.3 363.5,669.1 371.5,679.6 379.5,691.3 387.5,717.9 395.5,728.7 403.5,756.2 411.5,773.3 419.5,757.2 427.5,730.6 435.5,690.0 443.5,694.3 451.5,712.0 459.5,734.0 467.5,737.5 475.5,732.6 483.5,735.5 491.5,768.0 499.5,787.0 507.5,804.7 515.5,787.0 523.5,759.1 531.5,712.0 539.5,692.3 547.5,687.4 555.5,703.1 563.5,696.7 571.5,710.0 579.5,693.3 587.5,707.0 595.5,703.1 603.5,722.2 611.5,721.4 619.5,708.4 627.5,726.7 635.5,757.2 643.5,798.4 651.5,804.3 659.5,795.5 667.5,782.7 675.5,753.2 683.5,753.2 691.5,770.9 699.5,798.0 707.5,805.3 715.5,801.4 723.5,801.4 731.5,765.0 739.5,721.8 747.5,685.5 755.5,695.3 763.5,714.0 771.5,747.3 779.5,785.6 787.5,806.3 795.5,800.4 803.5,775.8 811.5,747.3 819.5,717.5 827.5,724.7 835.5,745.4 843.5,782.7 851.5,779.8 859.5,773.9 867.5,756.6 875.5,765.0 883.5,785.3 891.5,771.9 899.5,751.3 907.5,751.3 915.5,769.0 923.5,788.6 931.5,746.4 939.5,712.0 947.5,694.9 955.5,728.7 963.5,773.9 971.5,799.4 979.5,782.7 987.5,745.4 995.5,713.0 1003.5,694.3 1011.5,692.3 1019.5,683.5 1027.5,681.1 1035.5,696.3 1043.5,733.6 1051.5,770.9 1059.5,798.0 1067.5,786.6 1075.5,770.9 1083.5,757.2 1091.5,731.2 1099.5,734.2 1107.5,736.5 1115.5,751.3 1123.5,760.1 1131.5,756.2 1139.5,740.5 1147.5,701.6 1155.5,700.2 1163.5,707.0 1171.5,712.4 1179.5,707.0 1187.5,718.9 1195.5,731.6 1203.5,741.8 1211.5,717.9 1219.5,701.6 1227.5,726.7 1235.5,751.3 1243.5,782.3 1251.5,784.0 1259.5,791.5 1267.5,800.4 1275.5,793.5 1283.5,780.7 1291.5,766.4 1299.5,776.8 1307.5,797.4 1315.5,790.5 1323.5,769.0"/>
</g>
<g shape-rendering="crispEdges" fill="#000">
<rect x="2" y="2" width="1858" height="1"/>
<rect x="2" y="2" width="1" height="655"/>
<rect x="2" y="656" width="1858" height="1"/>
<rect x="2" y="658" width="1858" height="1"/>
<rect x="2" y="658" width="1" height="159"/>
<rect x="2" y="816" width="1858" height="1"/>
<rect x="1859" y="2" width="1" height="655"/>
<rect x="1859" y="658" width="1" height="159"/>
<rect x="1860" y="49" width="2" height="1"/>
<rect x="1860" y="98" width="2" height="1"/>
<rect x="1860" y="147" width="2" height="1"/>
<rect x="1860" y="196" width="2" height="1"/>
<rect x="1860" y="245" width="2" height="1"/>
<rect x="1860" y="294" width="2" height="1"/>
<rect x="1860" y="343" width="2" height="1"/>
<rect x="1860" y="392" width="2" height="1"/>
<rect x="1860" y="441" width="2" height="1"/>
<rect x="1860" y="490" width="2" height="1"/>
<rect x="1860" y="539" width="2" height="1"/>
<rect x="1860" y="588" width="2" height="1"/>
<rect x="1860" y="637" width="2" height="1"/>
<rect x="3" y="817" width="1" height="3"/>
<rect x="99" y="817" width="1" height="3"/>
<rect x="195" y="817" width="1" height="3"/>
<rect x="291" y="817" width="1" height="3"/>
<rect x="387" y="817" width="1" height="3"/>
<rect x="483" y="817" width="1" height="3"/>
<rect x="579" y="817" width="1" height="3"/>
<rect x="675" y="817" width="1" height="3"/>
<rect x="771" y="817" width="1" height="3"/>
<rect x="867" y="817" width="1" height="3"/>
<rect x="963" y="817" width="1" height="3"/>
<rect x="1059" y="817" width="1" height="3"/>
<rect x="1155" y="817" width="1" height="3"/>
<rect x="1251" y="817" width="1" height="3"/>
<rect x="1860" y="660" width="2" height="1"/>
</g>
<text x="1866" y="54.3">1049.95</text>
<text x="1866" y="103.3">1037.45</text>
<text x="1866" y="152.3">1024.95</text>
<text x="1866" y="201.3">1012.20</text>
<text x="1866" y="250.3">999.70</text>
<text x="1866" y="299.3">986.95</text>
<text x="1866" y="348.3">974.45</text>
<text x="1866" y="397.3">961.95</text>
<text x="1866" y="446.3">949.20</text>
<text x="1866" y="495.3">936.70</text>
<text x="1866" y="544.3">924.20</text>
<text x="1866" y="593.3">911.45</text>
<text x="1866" y="642.3">898.95</text>
<rect x="1861" y="302" width="49" height="14" fill="#556b2f" shape-rendering="crispEdges"/>
<text x="1866" y="313.5" style="fill:#fff">983.53</text>
<rect x="1861" y="400" width="49" height="14" fill="#000" shape-rendering="crispEdges"/>
<text x="1866" y="411.5" style="fill:#fff">957.98</text>
<rect x="1861" y="548" width="49" height="14" fill="#556b2f" shape-rendering="crispEdges"/>
<text x="1866" y="559.5" style="fill:#fff">920.15</text>
<text x="1857.5" y="75" text-anchor="end" style="fill:#000">38.2</text>
<text x="1857.5" y="175" text-anchor="end" style="fill:#9200d6">61.8</text>
<text x="1857.5" y="305.6" text-anchor="end" style="fill:#9200d6">50.0</text>
<text x="1857.5" y="436" text-anchor="end" style="fill:#9200d6">50.0</text>
<text x="1857.5" y="436" text-anchor="end" style="fill:#000">38.2</text>
<text x="1857.5" y="600" text-anchor="end" style="fill:#9200d6">23.6</text>
<text x="1863.5" y="672">100</text>
<text x="1862" y="696">80</text>
<text x="1862" y="789">20</text>
<text x="1863.5" y="812">0</text>
<text x="2.4" y="832" textLength="62.3" lengthAdjust="spacingAndGlyphs">12 Jul 2024</text>
<text x="98.4" y="832" textLength="62.8" lengthAdjust="spacingAndGlyphs">30 Jul 2024</text>
<text x="194.4" y="832" textLength="70.5" lengthAdjust="spacingAndGlyphs">15 Aug 2024</text>
<text x="290.4" y="832" textLength="62.5" lengthAdjust="spacingAndGlyphs">2 Sep 2024</text>
<text x="386.4" y="832" textLength="69.4" lengthAdjust="spacingAndGlyphs">18 Sep 2024</text>
<text x="482.4" y="832" textLength="62.1" lengthAdjust="spacingAndGlyphs">4 Oct 2024</text>
<text x="578.4" y="832" textLength="68.7" lengthAdjust="spacingAndGlyphs">22 Oct 2024</text>
<text x="674.4" y="832" textLength="62.8" lengthAdjust="spacingAndGlyphs">7 Nov 2024</text>
<text x="770.4" y="832" textLength="69.8" lengthAdjust="spacingAndGlyphs">25 Nov 2024</text>
<text x="866.4" y="832" textLength="69.8" lengthAdjust="spacingAndGlyphs">11 Dec 2024</text>
<text x="962.4" y="832" textLength="69.4" lengthAdjust="spacingAndGlyphs">30 Dec 2024</text>
<text x="1058.4" y="832" textLength="67.6" lengthAdjust="spacingAndGlyphs">16 Jan 2025</text>
<text x="1154.4" y="832" textLength="62.1" lengthAdjust="spacingAndGlyphs">3 Feb 2025</text>
<text x="1250.4" y="832" textLength="68.7" lengthAdjust="spacingAndGlyphs">19 Feb 2025</text>
<path d="M6 10.5 h9 l-4.5 5 z" fill="#000"/>
<text x="20.6" y="17" textLength="81.8" lengthAdjust="spacingAndGlyphs">XPTUSD.s,Daily</text>
<text x="110.6" y="17" textLength="168.6" lengthAdjust="spacingAndGlyphs">951.60 958.96 950.33 957.98</text>
<text x="7" y="674" textLength="70.7" lengthAdjust="spacingAndGlyphs">Stoch(5,3,3)</text>
<text x="82.1" y="674" textLength="95.7" lengthAdjust="spacingAndGlyphs">30.2631 19.4706</text>
<g fill="none" stroke-linecap="butt" stroke-linejoin="round">
<g style="filter:blur(1.2px)" opacity=".5" stroke="#fff">
<path d="M52.60,620.70 H73.00 A10.20,10.20 0 1 0 71.63,625.50 M100.17,614.12 A10.50,10.20 0 1 0 100.17,626.68 M106.50,620.40 a11.55,10.20 0 1 0 23.10,0 a11.55,10.20 0 1 0 -23.10,0 M137.90,633.20 V607.60 M137.90,633.20 V619.65 A9.45,9.45 0 0 1 156.80,619.65 V633.20 M164.60,620.40 a11.30,10.20 0 1 0 22.60,0 a11.30,10.20 0 1 0 -22.60,0 M196.10,633.20 V607.60 M196.10,633.20 V619.12 A7.73,8.93 0 0 1 211.55,619.12 V633.20 M211.55,619.12 A7.73,8.93 0 0 1 227.00,619.12 V633.20 M235.95,607.60 V633.20 M245.10,620.70 H264.40 A9.65,10.20 0 1 0 263.11,625.50 M290.3,614.2 C288.8,611.3 285,610.2 281,610.2 C275.5,610.2 272,612.3 272,615.3 C272,618.4 275,619.3 281,620.4 C287.5,621.6 290.6,622.8 290.6,625.8 C290.6,628.9 286.5,630.6 281,630.6 C276,630.6 272.6,629.3 271.4,626.2" stroke-width="9.2"/>
<path d="M324.19,613.38 A10.90,11.40 0 1 0 324.19,627.42 M329.40,620.40 a11.60,11.40 0 1 0 23.20,0 a11.60,11.40 0 1 0 -23.20,0 M357.50,633.20 V607.60 M357.50,633.20 V617.90 A7.70,8.90 0 0 1 372.90,617.90 V633.20 M372.90,617.90 A7.70,8.90 0 0 1 388.30,617.90 V633.20" stroke-width="6.8"/>
</g>
<g style="filter:blur(.6px)">
<path d="M52.60,620.70 H73.00 A10.20,10.20 0 1 0 71.63,625.50 M100.17,614.12 A10.50,10.20 0 1 0 100.17,626.68 M106.50,620.40 a11.55,10.20 0 1 0 23.10,0 a11.55,10.20 0 1 0 -23.10,0 M137.90,633.20 V607.60 M137.90,633.20 V619.65 A9.45,9.45 0 0 1 156.80,619.65 V633.20 M164.60,620.40 a11.30,10.20 0 1 0 22.60,0 a11.30,10.20 0 1 0 -22.60,0 M196.10,633.20 V607.60 M196.10,633.20 V619.12 A7.73,8.93 0 0 1 211.55,619.12 V633.20 M211.55,619.12 A7.73,8.93 0 0 1 227.00,619.12 V633.20 M235.95,607.60 V633.20 M245.10,620.70 H264.40 A9.65,10.20 0 1 0 263.11,625.50 M290.3,614.2 C288.8,611.3 285,610.2 281,610.2 C275.5,610.2 272,612.3 272,615.3 C272,618.4 275,619.3 281,620.4 C287.5,621.6 290.6,622.8 290.6,625.8 C290.6,628.9 286.5,630.6 281,630.6 C276,630.6 272.6,629.3 271.4,626.2" stroke="#fdd8c3" stroke-width="5.2"/>
<rect x="233" y="600" width="5.9" height="5.5" fill="#fdd8c3" stroke="none"/>
<path d="M324.19,613.38 A10.90,11.40 0 1 0 324.19,627.42 M329.40,620.40 a11.60,11.40 0 1 0 23.20,0 a11.60,11.40 0 1 0 -23.20,0 M357.50,633.20 V607.60 M357.50,633.20 V617.90 A7.70,8.90 0 0 1 372.90,617.90 V633.20 M372.90,617.90 A7.70,8.90 0 0 1 388.30,617.90 V633.20" stroke="#e2e2e2" stroke-width="2.8"/>
<rect x="298" y="629.4" width="3.7" height="3.8" fill="#e2e2e2" stroke="none"/>
</g></g>
<g style="filter:blur(1.2px)" opacity=".7">
<text x="87" y="673" style="font-family:'Liberation Sans',sans-serif;font-size:42px;fill:#fff;stroke:#fff;stroke-width:5">F</text>
<text x="137.4" y="673" textLength="97.4" lengthAdjust="spacingAndGlyphs" style="font-family:'Liberation Sans',sans-serif;font-size:42px;font-weight:bold;fill:#fff;stroke:#fff;stroke-width:5">News</text>
<text x="234.6" y="673" textLength="111" lengthAdjust="spacingAndGlyphs" style="font-family:'Liberation Sans',sans-serif;font-size:42px;fill:#fff;stroke:#fff;stroke-width:5">Today</text>
</g>
<g style="filter:blur(.6px)">
<text x="87" y="673" style="font-family:'Liberation Sans',sans-serif;font-size:42px;fill:#e6e6e6;stroke:#e6e6e6;stroke-width:.8">F</text>
<path d="M111.5,652 L118.5,659 L132,649.8" fill="none" stroke="#f3d6d6" stroke-width="3"/>
<path d="M115.5,670 L125,660 L134,668.5" fill="none" stroke="#d8ecd8" stroke-width="3"/>
<text x="137.4" y="673" textLength="97.4" lengthAdjust="spacingAndGlyphs" style="font-family:'Liberation Sans',sans-serif;font-size:42px;font-weight:bold;fill:#d0d0d0">News</text>
<text x="234.6" y="673" textLength="111" lengthAdjust="spacingAndGlyphs" style="font-family:'Liberation Sans',sans-serif;font-size:42px;fill:#dadada;stroke:#dadada;stroke-width:.5">Today</text>
</g>
</svg></body></html>
